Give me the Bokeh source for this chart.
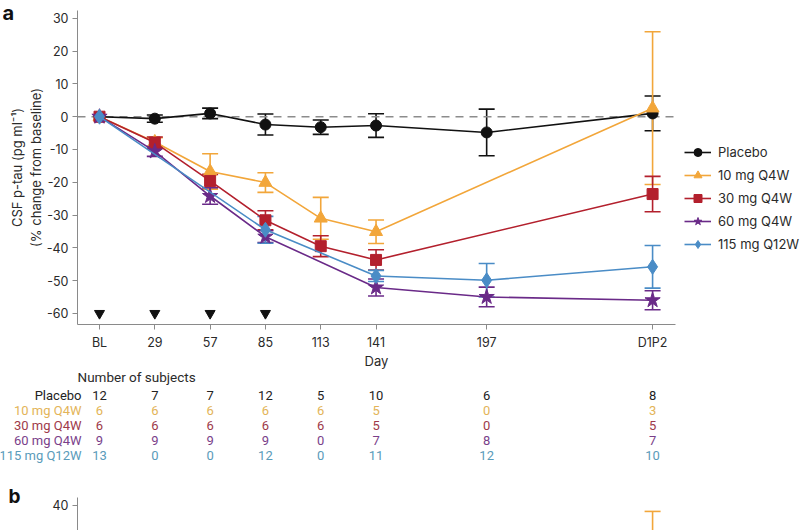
from bokeh.plotting import figure
from bokeh.models import (Range1d, FixedTicker, ColumnDataSource, Whisker, TeeHead,
                          Legend, LegendItem)
from bokeh.core.properties import value
from bokeh.embed import file_html
from bokeh.resources import INLINE

# ---------------- data ----------------
day_values = [1, 29, 57, 85, 113, 141, 197, 281]
day_labels = ["BL", "29", "57", "85", "113", "141", "197", "D1P2"]
x_title = "Day"
dose_days = [1, 29, 57, 85]
dose_level = [-60, -60, -60, -60]
baseline_value = [0]
y_ticks = [-60, -50, -40, -30, -20, -10, 0, 10, 20, 30]
y_tick_labels = ["-60", "-50", "-40", "-30", "-20", "-10", "0", "10", "20", "30"]

groups = ["Placebo", "10 mg Q4W", "30 mg Q4W", "60 mg Q4W", "115 mg Q12W"]

placebo_mean = [0, -0.6, 1.0, -2.4, -3.2, -2.7, -4.8, 1.0]
placebo_err = [None, 1.1, 1.6, 3.2, 2.2, 3.6, 7.1, 5.3]
mg10_mean = [0, -7.7, -16.7, -20.1, -31.0, -35.1, None, 2.6]
mg10_err = [None, 1.3, 5.4, 3.0, 6.4, 3.6, None, 23.3]
mg30_mean = [0, -7.9, -19.6, -31.6, -39.5, -43.7, None, -23.6]
mg30_err = [None, 1.7, 2.0, 2.9, 3.2, 3.1, None, 5.4]
mg60_mean = [0, -10.6, -24.2, -36.6, None, -52.1, -55.0, -56.0]
mg60_err = [None, 1.5, 2.5, 1.8, None, 2.6, 3.0, 2.9]
mg115_mean = [0, None, None, -34.5, None, -48.6, -49.9, -45.8]
mg115_err = [None, None, None, 4.1, None, 1.7, 5.1, 6.5]

n_placebo = [12, 7, 7, 12, 5, 10, 6, 8]
n_mg10 = [6, 6, 6, 6, 6, 5, 0, 3]
n_mg30 = [6, 6, 6, 6, 6, 5, 0, 5]
n_mg60 = [9, 9, 9, 9, 0, 7, 8, 7]
n_mg115 = [13, 0, 0, 12, 0, 11, 12, 10]

# panel b (only its top edge is visible)
b_ticks = [40]
b_day = [281]
b_upper = [38.1]
b_lower = [10.0]

panel_letters = ["a", "b"]

# ---------------- styles ----------------
series_colors = ["#111111", "#F2A63A", "#B3202D", "#6A2A88", "#4A8CC6"]
table_colors = ["#222222", "#E3B458", "#9E3A4A", "#7A3F8A", "#5A9BBA"]
markers = ["circle", "triangle", "square", "star", "diamond"]
marker_sizes = [11, 13, 11, 16, 15]
FONT = "Inter"
TFONT = "Roboto"
AXIS_COL = "#8a8a8a"
TEXT_COL = "#2a2a2a"

means = [placebo_mean, mg10_mean, mg30_mean, mg60_mean, mg115_mean]
errs = [placebo_err, mg10_err, mg30_err, mg60_err, mg115_err]
counts = [n_placebo, n_mg10, n_mg30, n_mg60, n_mg115]

PAGE_W = 800
BORDER_L = 77
x_start, x_end = -10.14, 292.6          # extent of the drawn x axis
AXIS_PX = 598                            # pixel length of that axis
px_per_day = AXIS_PX / (x_end - x_start)
x_frame_end = x_start + (PAGE_W - BORDER_L) / px_per_day
y_start, y_end = -63.4, 32.4


def style_axis(ax):
    ax.axis_line_color = AXIS_COL
    ax.major_tick_line_color = AXIS_COL
    ax.minor_tick_line_color = None
    ax.major_tick_in = 0
    ax.major_tick_out = 5
    ax.major_label_text_font = FONT
    ax.major_label_text_font_size = "12.5px"
    ax.major_label_text_color = TEXT_COL
    ax.axis_label_text_font = FONT
    ax.axis_label_text_font_size = "13px"
    ax.axis_label_text_font_style = "normal"
    ax.axis_label_text_color = TEXT_COL


def letter_fig(letter, left, top, size):
    f = figure(width=22, height=28, x_range=Range1d(0, 1), y_range=Range1d(0, 1),
               output_backend="svg", toolbar_location=None, min_border=0,
               x_axis_location=None, y_axis_location=None,
               styles={"position": "absolute", "left": f"{left}px", "top": f"{top}px"})
    f.outline_line_color = None
    f.grid.visible = False
    f.background_fill_alpha = 0
    f.border_fill_alpha = 0
    f.text(x=[0], y=[1], text=[letter], text_align="left", text_baseline="top",
           text_font=value(FONT), text_font_style="bold", text_font_size=size,
           text_color="#111111")
    return f


# ---------------- panel a ----------------
P_H = 352
p = figure(width=PAGE_W, height=P_H,
           x_range=Range1d(x_start, x_frame_end), y_range=Range1d(y_start, y_end),
           output_backend="svg", toolbar_location=None,
           min_border_left=BORDER_L, min_border_right=0,
           min_border_top=10, min_border_bottom=28)
p.outline_line_color = None
p.grid.visible = False
p.background_fill_color = "white"
p.border_fill_alpha = 0

p.xaxis.ticker = FixedTicker(ticks=day_values)
p.xaxis.major_label_overrides = {d: l for d, l in zip(day_values, day_labels)}
p.xaxis.bounds = (x_start, x_end)
p.yaxis.ticker = FixedTicker(ticks=y_ticks)
p.yaxis.major_label_overrides = {t: l for t, l in zip(y_ticks, y_tick_labels)}
p.yaxis.axis_label = "CSF p-tau (pg ml\u207b\u00b9)\n(% change from baseline)"
p.yaxis.major_label_standoff = 4
p.yaxis.axis_label_standoff = 0
for ax in (p.xaxis[0], p.yaxis[0]):
    style_axis(ax)

# dashed zero reference line across the drawn axis extent
p.segment(x0=[x_start], y0=baseline_value, x1=[x_end], y1=baseline_value,
          line_color="#8c8c8c", line_dash="8 6", line_width=1.5)

legend_items = []
for g, m, e, c, mk, ms in zip(groups, means, errs, series_colors, markers, marker_sizes):
    xs = [d for d, v in zip(day_values, m) if v is not None]
    ys = [v for v in m if v is not None]
    wb = [d for d, v, er in zip(day_values, m, e) if v is not None and er is not None]
    wu = [v + er for v, er in zip(m, e) if v is not None and er is not None]
    wl = [v - er for v, er in zip(m, e) if v is not None and er is not None]
    wsrc = ColumnDataSource(dict(base=wb, upper=wu, lower=wl))
    p.add_layout(Whisker(source=wsrc, base="base", upper="upper", lower="lower",
                         line_color=c, line_width=1.6,
                         upper_head=TeeHead(size=16, line_color=c, line_width=1.6),
                         lower_head=TeeHead(size=16, line_color=c, line_width=1.6)))
    lr = p.line(xs, ys, line_color=c, line_width=1.6)
    sr = p.scatter(xs, ys, marker=mk, size=ms, fill_color=c, line_color=c)
    legend_items.append(LegendItem(label=g, renderers=[lr, sr]))

p.scatter(dose_days, dose_level, marker="inverted_triangle", size=10,
          fill_color="#111111", line_color="#111111")

legend = Legend(items=legend_items, location=(607, 70),
                border_line_color=None, background_fill_alpha=0,
                label_text_font=FONT, label_text_font_size="13px",
                label_text_color=TEXT_COL,
                glyph_width=27, glyph_height=20, label_height=20,
                spacing=3, padding=0, margin=0, label_standoff=7)
p.add_layout(legend)

# ---------------- x title + subject table ----------------
T_H = 118
ROW_PX = 15
t_x_start = x_start - BORDER_L / px_per_day
t_x_end = t_x_start + PAGE_W / px_per_day
t_top = -43 / ROW_PX
t_bottom = 75 / ROW_PX

t = figure(width=PAGE_W, height=T_H,
           x_range=Range1d(t_x_start, t_x_end), y_range=Range1d(t_bottom, t_top),
           output_backend="svg", toolbar_location=None, min_border=0,
           x_axis_location=None, y_axis_location=None)
t.outline_line_color = None
t.grid.visible = False

t.text(x=[(x_start + x_end) / 2], y=[-2.27], text=[x_title], text_align="center",
       text_baseline="middle", text_font=value(FONT), text_font_size="13px",
       text_color=TEXT_COL)
t.text(x=[x_start], y=[-1.22], text=["Number of subjects"], text_align="left",
       text_baseline="middle", text_font=value(TFONT), text_font_size="13.5px",
       text_color=TEXT_COL)
for i, (g, n, c) in enumerate(zip(groups, counts, table_colors)):
    t.text(x=[x_start], y=[i], text=[g], x_offset=4, text_align="right",
           text_baseline="middle", text_font=value(TFONT), text_font_size="13px",
           text_color=c)
    t.text(x=day_values, y=[i] * len(day_values), text=[str(v) for v in n],
           text_align="center", text_baseline="middle", text_font=value(TFONT),
           text_font_size="13px", text_color=c)

# ---------------- panel b (top edge) ----------------
b = figure(width=PAGE_W, height=60, x_range=Range1d(x_start, x_frame_end),
           y_range=Range1d(32.3, 42.33),
           output_backend="svg", toolbar_location=None,
           min_border_left=BORDER_L, min_border_right=0,
           min_border_top=27, min_border_bottom=0, x_axis_location=None)
b.outline_line_color = None
b.grid.visible = False
b.border_fill_alpha = 0
b.yaxis.ticker = FixedTicker(ticks=b_ticks)
b.yaxis.major_label_standoff = 4
style_axis(b.yaxis[0])
bsrc = ColumnDataSource(dict(base=b_day, upper=b_upper, lower=b_lower))
b.add_layout(Whisker(source=bsrc, base="base", upper="upper", lower="lower",
                     line_color=series_colors[1], line_width=1.6,
                     upper_head=TeeHead(size=16, line_color=series_colors[1], line_width=1.6),
                     lower_head=TeeHead(size=16, line_color=series_colors[1], line_width=1.6)))

fa = letter_fig(panel_letters[0], 2, 0, "20px")
fb = letter_fig(panel_letters[1], 8, 484, "19px")

open("out.html", "w").write(file_html([p, t, b, fa, fb], INLINE))
